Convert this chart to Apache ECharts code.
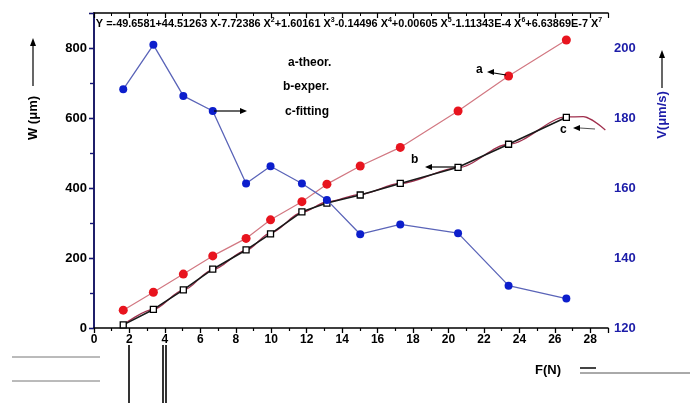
<!DOCTYPE html>
<html><head><meta charset="utf-8">
<script src="https://cdn.jsdelivr.net/npm/echarts@6/dist/echarts.min.js"></script>
<style>html,body{margin:0;padding:0;background:#fff}#c{width:692px;height:403px}</style>
</head><body><div id="c"></div>
<script>
// Force F (N)
var forceN = [1.65, 3.35, 5.04, 6.70, 8.58, 9.96, 11.73, 13.14, 15.02, 17.28, 20.54, 23.39, 26.65];
// a - theoretical W (um)
var wTheor = [51, 102, 154, 206, 256, 309, 361, 411, 463, 516, 620, 720, 823];
// b - experimental W (um)
var wExper = [9, 53, 109, 168, 223, 269, 332, 357, 380, 413, 459, 525, 602];
// V (um/s)
var velocity = [188.2, 200.9, 186.3, 182.0, 161.3, 166.2, 161.3, 156.6, 146.8, 149.6, 147.1, 132.1, 128.4];
// c - fitting curve
var fitX = [1.65, 3.35, 5.04, 6.70, 8.58, 9.96, 11.73, 13.14, 15.02, 17.28, 20.54, 23.39, 26.65, 27.6, 28.85];
var fitW = [9, 53, 108, 167, 222, 272, 330, 360, 382, 413, 458, 525, 603, 604, 566];
var xTicks = ['0','2','4','6','8','10','12','14','16','18','20','22','24','26','28'];
var leftTicks = ['0','200','400','600','800'];
var rightTicks = ['120','140','160','180','200'];
var equation = 'Y =-49.6581+44.51263 X-7.72386 X{s|2}+1.60161 X{s|3}-0.14496 X{s|4}+0.00605 X{s|5}-1.11343E-4 X{s|6}+6.63869E-7 X{s|7}';

function pairs(xs, ys){ return xs.map(function(x,i){ return [x, ys[i]]; }); }
var FF = 'Liberation Sans, Arial, sans-serif';
var chart = echarts.init(document.getElementById('c'));
var gl = 94, gr = 608, gt = 13, gb = 328;
function arrowHead(x, y, dir, col){
  var pts;
  if (dir === 'left') pts = [[x,y],[x+7,y-3],[x+7,y+3]];
  else if (dir === 'right') pts = [[x,y],[x-7,y-3],[x-7,y+3]];
  else pts = [[x,y],[x-3,y+8],[x+3,y+8]];
  return {type:'polygon', shape:{points:pts}, style:{fill:col||'#000'}, z:20};
}
function line(x1,y1,x2,y2,col,w){ return {type:'line', shape:{x1:x1,y1:y1,x2:x2,y2:y2}, style:{stroke:col||'#000', lineWidth:w||1.2}, z:20}; }
function txt(x,y,t,opt){ var s = Object.assign({text:t, x:x, y:y, font:'bold 12px '+FF, fill:'#000', textAlign:'left', textVerticalAlign:'middle'}, opt||{}); return {type:'text', style:s, z:20}; }

chart.setOption({
  animation:false,
  grid:{left:gl, right:692-gr, top:gt, bottom:403-gb},
  xAxis:[{
    type:'value', min:0, max:29, interval:2,
    axisLine:{lineStyle:{color:'#000', width:1.5}},
    axisTick:{length:5, lineStyle:{color:'#000', width:1.3}},
    minorTick:{show:true, splitNumber:2, length:3, lineStyle:{color:'#000', width:1.2}},
    splitLine:{show:false},
    axisLabel:{margin:6, color:'#000', fontFamily:FF, fontWeight:'bold', fontSize:12, showMaxLabel:false,
      formatter:function(v){ var i = xTicks.indexOf(String(v)); return i>=0 ? xTicks[i] : ''; }}
  },{
    type:'value', position:'top', min:0, max:29, interval:2,
    axisLine:{lineStyle:{color:'#000', width:1.5}},
    axisTick:{inside:true, length:5, lineStyle:{color:'#000', width:1.2}},
    minorTick:{show:true, splitNumber:2, length:3, lineStyle:{color:'#000'}},
    axisLabel:{show:false}, splitLine:{show:false}
  }],
  yAxis:[{
    type:'value', min:0, max:900, interval:200,
    axisLine:{show:true, lineStyle:{color:'#000', width:1.5}},
    axisTick:{length:5, lineStyle:{color:'#000', width:1.3}},
    minorTick:{show:true, splitNumber:2, length:4, lineStyle:{color:'#000', width:1.2}},
    splitLine:{show:false},
    axisLabel:{margin:7, color:'#000', fontFamily:FF, fontWeight:'bold', fontSize:13,
      formatter:function(v){ return leftTicks.indexOf(String(v))>=0 ? String(v) : ''; }}
  },{
    type:'value', position:'right', min:120, max:210, interval:20,
    axisLine:{show:true, lineStyle:{color:'#141478', width:1.5}},
    axisTick:{inside:true, length:5, lineStyle:{color:'#141478', width:1.3}},
    minorTick:{show:true, splitNumber:2, length:4, lineStyle:{color:'#141478', width:1.2}},
    splitLine:{show:false},
    axisLabel:{margin:6, color:'#1c1ca8', fontFamily:FF, fontWeight:'bold', fontSize:13,
      formatter:function(v){ return rightTicks.indexOf(String(v))>=0 ? String(v) : ''; }}
  }],
  series:[
    {name:'a-theor.', type:'line', data:pairs(forceN, wTheor), symbol:'circle', symbolSize:9,
      itemStyle:{color:'#e8141e', borderWidth:0}, lineStyle:{color:'#d27882', width:1.2}, z:5},
    {name:'b-exper.', type:'line', data:pairs(forceN, wExper), symbol:'rect', symbolSize:6,
      itemStyle:{color:'#fff', borderColor:'#000', borderWidth:1.3}, lineStyle:{color:'#1a1a1a', width:1.6}, z:4},
    {name:'c-fitting', type:'line', data:pairs(fitX, fitW), symbol:'none', smooth:0.3, smoothMonotone:'x',
      lineStyle:{color:'#a0304e', width:1.3}, z:3},
    {name:'V', type:'line', yAxisIndex:1, data:pairs(forceN, velocity), symbol:'circle', symbolSize:8,
      itemStyle:{color:'#0c1ecc', borderWidth:0}, lineStyle:{color:'#5a64b8', width:1.3}, z:6}
  ],
  graphic:[
    {type:'text', style:{x:(gl+gr)/2-2, y:24, rich:{s:{fontSize:7, fontWeight:'bold', fontFamily:FF, verticalAlign:'top', padding:[0,0,7,0]}},
      text:equation, font:'bold 10.9px '+FF, fill:'#000', textAlign:'center', textVerticalAlign:'middle'}, z:20},
    txt(288,62.5,'a-theor.'), txt(283,87,'b-exper.'), txt(285,112,'c-fitting'),
    line(214,111,240,111), arrowHead(247,111,'right'),
    txt(476,70,'a'), line(494,73,506,75), arrowHead(487,72,'left'),
    txt(411,160,'b'), line(432,167,456,167), arrowHead(425,167,'left'),
    txt(560,130,'c'), line(580,128,595,129,'#555'), arrowHead(573,128,'left'),
    {type:'text', rotation:Math.PI/2, x:33, y:118, style:{text:'W (μm)', font:'bold 13px '+FF, fill:'#000', textAlign:'center', textVerticalAlign:'middle'}, z:20},
    line(33,86,33,46), arrowHead(33,38,'up'),
    {type:'text', rotation:Math.PI/2, x:662, y:115, style:{text:'V(μm/s)', font:'bold 13px '+FF, fill:'#1c1ca8', textAlign:'center', textVerticalAlign:'middle'}, z:20},
    line(662,88,662,58), arrowHead(662,50,'up'),
    txt(535,370,'F(N)', {font:'bold 13px '+FF}),
    line(580,373,690,373,'#555',1), line(580,368,596,368,'#444',2),
    line(12,357,100,357,'#777',1), line(12,381,100,381,'#777',1),
    line(129,345,129,403,'#000',1.6), line(163,345,163,403,'#000',1.6), line(166,345,166,403,'#000',1.6)
  ]
});
</script></body></html>
